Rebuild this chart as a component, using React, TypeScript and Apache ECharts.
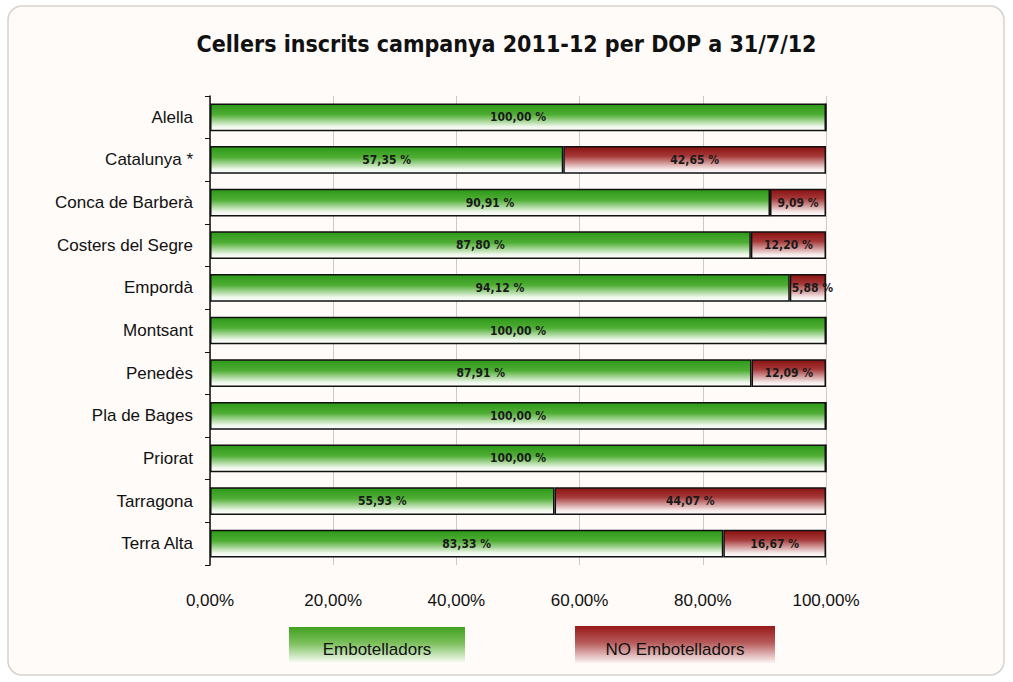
import React, { useEffect, useRef } from "react";
import * as echarts from "echarts";

const categories = [
  "Alella",
  "Catalunya *",
  "Conca de Barberà",
  "Costers del Segre",
  "Empordà",
  "Montsant",
  "Penedès",
  "Pla de Bages",
  "Priorat",
  "Tarragona",
  "Terra Alta",
];
const embotelladors = [100, 57.35, 90.91, 87.8, 94.12, 100, 87.91, 100, 100, 55.93, 83.33];
const noEmbotelladors = [0, 42.65, 9.09, 12.2, 5.88, 0, 12.09, 0, 0, 44.07, 16.67];
const xTicks = [0, 20, 40, 60, 80, 100];

const fmt = (v: number) => v.toFixed(2).replace(".", ",");

const greenGrad = new echarts.graphic.LinearGradient(0, 0, 0, 1, [
  { offset: 0, color: "#2c9818" },
  { offset: 0.4, color: "#4fae34" },
  { offset: 0.85, color: "#eef7ea" },
  { offset: 1, color: "#ffffff" },
]);
const redGrad = new echarts.graphic.LinearGradient(0, 0, 0, 1, [
  { offset: 0, color: "#8a1212" },
  { offset: 0.35, color: "#a63838" },
  { offset: 0.85, color: "#f6e9e9" },
  { offset: 1, color: "#ffffff" },
]);
const greenLeg = new echarts.graphic.LinearGradient(0, 0, 0, 1, [
  { offset: 0, color: "#42a020" },
  { offset: 0.45, color: "#7cc05c" },
  { offset: 1, color: "#fbfdf8" },
]);
const redLeg = new echarts.graphic.LinearGradient(0, 0, 0, 1, [
  { offset: 0, color: "#9a1818" },
  { offset: 0.45, color: "#b65a5a" },
  { offset: 1, color: "#fbf4f2" },
]);

const sans = "'Liberation Sans', Arial, sans-serif";
const bold = "'DejaVu Sans Condensed', 'DejaVu Sans', sans-serif";

const labelStyle = {
  show: true,
  position: "inside",
  fontFamily: bold,
  fontWeight: "bold",
  fontSize: 12,
  color: "#1a1a1a",
  formatter: (p: any) => (p.value > 0 ? fmt(p.value) + " %" : ""),
};

export default function App() {
  const ref = useRef<HTMLDivElement>(null);
  useEffect(() => {
    if (!ref.current) return;
    const chart = echarts.init(ref.current, null, { renderer: "svg" });
    chart.setOption({
      animation: false,
      backgroundColor: "#ffffff",
      title: {
        text: "Cellers inscrits campanya 2011-12 per DOP a 31/7/12",
        left: "center",
        top: 27,
        textStyle: { fontFamily: bold, fontWeight: "bold", fontSize: 23, color: "#111" },
      },
      graphic: [
        {
          type: "rect",
          z: -10,
          silent: true,
          shape: { x: 8, y: 6, width: 996, height: 669, r: 14 },
          style: { fill: "#fefbf8", stroke: "#d6d2ce", lineWidth: 1.5 },
        },
        {
          type: "group",
          left: 289,
          top: 627,
          children: [
            { type: "rect", shape: { x: 0, y: 0, width: 176, height: 36 }, style: { fill: greenLeg } },
            {
              type: "text",
              x: 88,
              y: 22,
              style: { text: "Embotelladors", fontFamily: sans, fontSize: 17, fill: "#111", align: "center", verticalAlign: "middle" },
            },
          ],
        },
        {
          type: "group",
          left: 575,
          top: 626,
          children: [
            { type: "rect", shape: { x: 0, y: 0, width: 200, height: 37 }, style: { fill: redLeg } },
            {
              type: "text",
              x: 100,
              y: 23,
              style: { text: "NO Embotelladors", fontFamily: sans, fontSize: 17, fill: "#111", align: "center", verticalAlign: "middle" },
            },
          ],
        },
      ],
      grid: { left: 210, right: 187, top: 96, bottom: 117 },
      xAxis: {
        type: "value",
        min: 0,
        max: 100,
        interval: 20,
        axisLine: { show: false },
        axisTick: { show: false },
        splitLine: { show: true, lineStyle: { color: "#cfcac6", width: 1 } },
        axisLabel: {
          margin: 27,
          fontFamily: sans,
          fontSize: 17,
          color: "#111",
          formatter: (v: number) => (xTicks.includes(v) ? fmt(v) + "%" : ""),
        },
      },
      yAxis: {
        type: "category",
        inverse: true,
        data: categories,
        axisLine: { show: true, lineStyle: { color: "#111", width: 1.5 } },
        axisTick: { show: true, length: 5, lineStyle: { color: "#111" } },
        axisLabel: { margin: 17, fontFamily: sans, fontSize: 17, color: "#111" },
      },
      series: [
        {
          name: "Embotelladors",
          type: "bar",
          stack: "t",
          barWidth: "65%",
          data: embotelladors,
          itemStyle: { color: greenGrad, borderColor: "#111", borderWidth: 1.5 },
          label: labelStyle,
        },
        {
          name: "NO Embotelladors",
          type: "bar",
          stack: "t",
          barWidth: "65%",
          data: noEmbotelladors.map((v) =>
            v > 0 && v < 8 ? { value: v, label: { position: "insideLeft", distance: 2 } } : v
          ),
          itemStyle: { color: redGrad, borderColor: "#111", borderWidth: 1.5 },
          label: labelStyle,
        },
      ],
    });
    return () => chart.dispose();
  }, []);
  return <div ref={ref} style={{ position: "absolute", left: 0, top: 0, width: 1013, height: 682 }} />;
}
